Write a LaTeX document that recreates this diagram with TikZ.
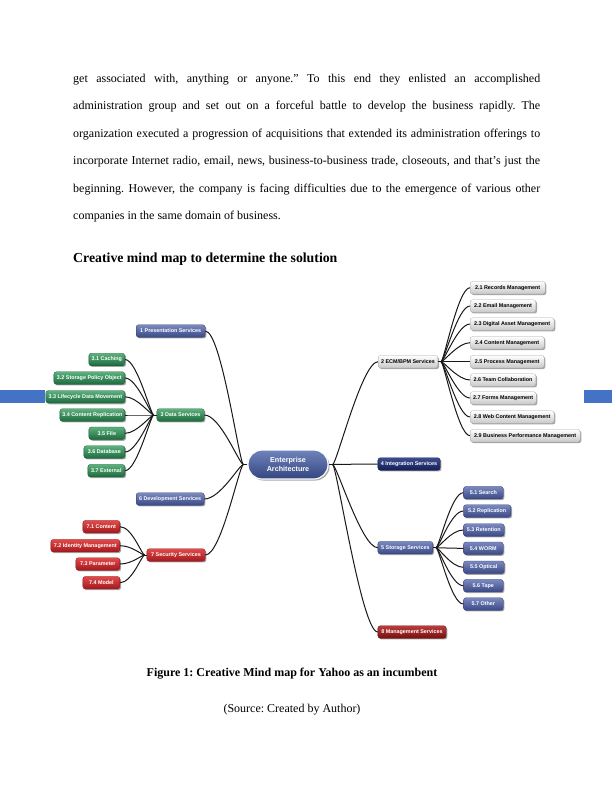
\documentclass[tikz,border=0pt]{standalone}
\usepackage{fontspec}
\setmainfont{Liberation Serif}
\newfontfamily\mapfont{Liberation Sans}
\usetikzlibrary{shadows}
\frenchspacing
\definecolor{barblue}{HTML}{4472C4}
\definecolor{btop}{HTML}{7A89C0}
\definecolor{bbot}{HTML}{3A4985}
\definecolor{gtop}{HTML}{5DB27C}
\definecolor{gbot}{HTML}{1C6A3F}
\definecolor{rtop}{HTML}{E24A4A}
\definecolor{rbot}{HTML}{A3181D}
\definecolor{ntop}{HTML}{3C4C8E}
\definecolor{nbot}{HTML}{141E58}
\definecolor{dtop}{HTML}{BA3C3C}
\definecolor{dbot}{HTML}{781010}
\definecolor{wbot}{HTML}{C8C8C8}
\definecolor{ctop}{HTML}{7084BC}
\definecolor{cbot}{HTML}{33457F}
\begin{document}
\frenchspacing
\begin{tikzpicture}[x=1pt,y=-1pt,
  bodyline/.style={anchor=base west, inner sep=0pt, font=\fontsize{12}{14}\selectfont},
  mm/.style={rounded corners=2.5pt, minimum height=12.5pt, inner sep=1.2pt,
    font=\mapfont\bfseries\fontsize{5.4}{6}\selectfont, text=white, line width=0.3pt,
    drop shadow={shadow xshift=1.2pt, shadow yshift=-1.2pt, opacity=0.35, fill=black}},
  bnode/.style={mm, top color=btop, bottom color=bbot, draw=bbot!80!black},
  gnode/.style={mm, top color=gtop, bottom color=gbot, draw=gbot!80!black},
  rnode/.style={mm, top color=rtop, bottom color=rbot, draw=rbot!80!black},
  nnode/.style={mm, top color=ntop, bottom color=nbot, draw=nbot!80!black},
  dnode/.style={mm, top color=dtop, bottom color=dbot, draw=dbot!80!black},
  wnode/.style={mm, top color=white, bottom color=wbot, draw=black!35, text=black},
  conn/.style={draw=black!90, line width=1pt},
  lbr/.style={out=180, in=0, out distance=4pt, in distance=16pt},
  rbr/.style={out=0, in=180, out distance=4pt, in distance=16pt},
  lsub/.style={out=180, in=0, out distance=3pt, in distance=12pt},
  rsub/.style={out=0, in=180, out distance=3pt, in distance=12pt}]
\useasboundingbox (0,0) rectangle (612,792);
\fill[white] (0,0) rectangle (612,792);

% body text
\node[bodyline] (t1) at (73,82) {\hbox to 467pt{get associated with, anything or anyone." To this end they enlisted an accomplished}};
\node[bodyline] (t2) at (73,109.5) {\hbox to 467pt{administration group and set out on a forceful battle to develop the business rapidly. The}};
\node[bodyline] (t3) at (73,137) {\hbox to 467pt{organization executed a progression of acquisitions that extended its administration offerings to}};
\node[bodyline] (t4) at (73,164.5) {\hbox to 467pt{incorporate Internet radio, email, news, business-to-business trade, closeouts, and that's just the}};
\node[bodyline] (t5) at (73,192) {\hbox to 467pt{beginning. However, the company is facing difficulties due to the emergence of various other}};
\node[bodyline] (t6) at (73,219.5) {companies in the same domain of business.};
\node[anchor=base west, inner sep=0pt, font=\fontsize{13.8}{16}\selectfont\bfseries] (head) at (73,262) {Creative mind map to determine the solution};

% side bars
\fill[barblue] (0,390) rectangle (45,403);
\fill[barblue] (584,390) rectangle (612,403);

% centre
\node[rounded corners=14pt, minimum width=80pt, minimum height=29pt, inner sep=1pt,
  top color=ctop, bottom color=cbot, draw=white, line width=1.2pt,
  drop shadow={shadow xshift=1.5pt, shadow yshift=-1.5pt, opacity=0.35, fill=black},
  text=white, align=center, font=\mapfont\bfseries\fontsize{7.2}{8.6}\selectfont]
  (EA) at (288,464.5) {Enterprise\\Architecture};

% left main branches
\node[bnode, anchor=west, minimum width=69pt] (P1) at (136,331) {1 Presentation Services};
\node[gnode, anchor=west, minimum width=47.3pt] (D3) at (156.7,415) {3 Data Services};
\node[bnode, anchor=west, minimum width=68pt] (D6) at (136,499) {6 Development Services};
\node[rnode, anchor=west, minimum width=58.3pt] (S7) at (146.7,555) {7 Security Services};

% data children
\node[gnode, anchor=east, minimum width=36pt] (c31) at (125,359.5) {3.1 Caching};
\node[gnode, anchor=east, minimum width=71pt] (c32) at (125,378) {3.2 Storage Policy Object};
\node[gnode, anchor=east, minimum width=79pt] (c33) at (125,396.8) {3.3 Lifecycle Data Movement};
\node[gnode, anchor=east, minimum width=65pt] (c34) at (125,415) {3.4 Content Replication};
\node[gnode, anchor=east, minimum width=36pt] (c35) at (125,433.3) {3.5 File};
\node[gnode, anchor=east, minimum width=41pt] (c36) at (125,452) {3.6 Database};
\node[gnode, anchor=east, minimum width=37pt] (c37) at (125,470.7) {3.7 External};

% security children
\node[rnode, anchor=east, minimum width=37pt] (c71) at (120,526.7) {7.1 Content};
\node[rnode, anchor=east, minimum width=69pt] (c72) at (120,545.7) {7.2 Identity Management};
\node[rnode, anchor=east, minimum width=44pt] (c73) at (120,564) {7.3 Parameter};
\node[rnode, anchor=east, minimum width=37pt] (c74) at (120,582.7) {7.4 Model};

% right main branches
\node[wnode, anchor=west, minimum width=59.7pt] (E2) at (378,361.7) {2 ECM/BPM Services};
\node[nnode, anchor=west, minimum width=62.3pt] (I4) at (377.7,464) {4 Integration Services};
\node[bnode, anchor=west, minimum width=55pt] (S5) at (377.7,547.7) {5 Storage Services};
\node[dnode, anchor=west, minimum width=68.3pt] (M8) at (377.7,632) {8 Management Services};

% ECM children
\node[wnode, anchor=west, minimum width=75pt] (c21) at (470,287.7) {2.1 Records Management};
\node[wnode, anchor=west, minimum width=65.7pt] (c22) at (470,306) {2.2 Email Management};
\node[wnode, anchor=west, minimum width=84pt] (c23) at (470,324) {2.3 Digital Asset Management};
\node[wnode, anchor=west, minimum width=74pt] (c24) at (470,342.7) {2.4 Content Management};
\node[wnode, anchor=west, minimum width=74pt] (c25) at (470,361.7) {2.5 Process Management};
\node[wnode, anchor=west, minimum width=65.7pt] (c26) at (470,380) {2.6 Team Collaboration};
\node[wnode, anchor=west, minimum width=66pt] (c27) at (470,398) {2.7 Forms Management};
\node[wnode, anchor=west, minimum width=84pt] (c28) at (470,417) {2.8 Web Content Management};
\node[wnode, anchor=west, minimum width=110pt] (c29) at (470,435.7) {2.9 Business Performance Management};

% storage children
\node[bnode, anchor=west, minimum width=39.7pt] (c51) at (463.3,492.7) {5.1 Search};
\node[bnode, anchor=west, minimum width=47.4pt] (c52) at (463.3,511) {5.2 Replication};
\node[bnode, anchor=west, minimum width=40.7pt] (c53) at (463.3,530) {5.3 Retention};
\node[bnode, anchor=west, minimum width=39.7pt] (c54) at (463.3,548.3) {5.4 WORM};
\node[bnode, anchor=west, minimum width=40.7pt] (c55) at (463.3,567.3) {5.5 Optical};
\node[bnode, anchor=west, minimum width=39.7pt] (c56) at (463.3,585.7) {5.6 Tape};
\node[bnode, anchor=west, minimum width=39.7pt] (c57) at (463.3,604) {5.7 Other};

% hubs
\coordinate (hL) at ([xshift=-4pt]EA.west);
\coordinate (hR) at ([xshift=4pt]EA.east);
\coordinate (h3) at ([xshift=-3pt]D3.west);
\coordinate (h7) at ([xshift=-2pt]S7.west);
\coordinate (h2) at ([xshift=3pt]E2.east);
\coordinate (h5) at ([xshift=3pt]S5.east);

% connectors
\draw[conn] (EA.west) -- (hL);
\draw[conn] (EA.east) -- (hR);
\draw[conn] (D3.west) -- (h3);
\draw[conn] (S7.west) -- (h7);
\draw[conn] (E2.east) -- (h2);
\draw[conn] (S5.east) -- (h5);
\foreach \c in {P1,D3,D6,S7} \draw[conn] (hL) to[lbr] (\c.east);
\foreach \c in {E2,I4,S5,M8} \draw[conn] (hR) to[rbr] (\c.west);
\foreach \c in {c31,c32,c33,c34,c35,c36,c37} \draw[conn] (h3) to[lsub] (\c.east);
\foreach \c in {c71,c72,c73,c74} \draw[conn] (h7) to[lsub] (\c.east);
\foreach \c in {c21,c22,c23,c24,c25,c26,c27,c28,c29} \draw[conn] (h2) to[rsub] (\c.west);
\foreach \c in {c51,c52,c53,c54,c55,c56,c57} \draw[conn] (h5) to[rsub] (\c.west);

% caption
\node[anchor=base, inner sep=0pt, font=\fontsize{12}{14}\selectfont\bfseries] (cap) at (292,676) {Figure 1: Creative Mind map for Yahoo as an incumbent};
\node[anchor=base, inner sep=0pt, font=\fontsize{12}{14}\selectfont] (src) at (292,712) {(Source: Created by Author)};
\end{tikzpicture}
\end{document}
